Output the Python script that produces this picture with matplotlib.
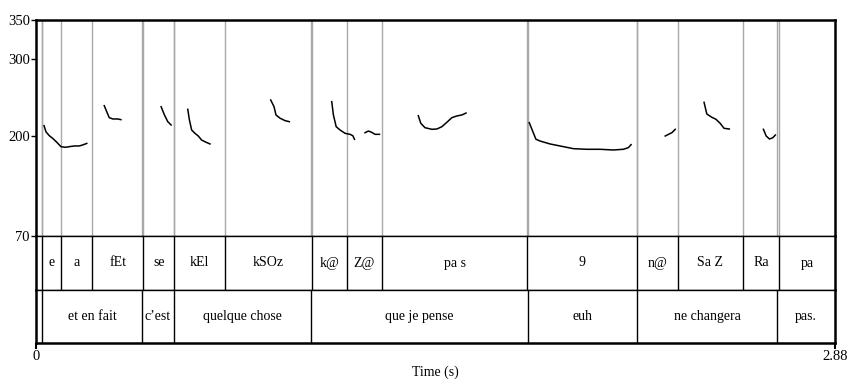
import matplotlib
matplotlib.use("Agg")
import matplotlib.pyplot as plt
import numpy as np

plt.rcParams['font.family'] = ['Liberation Serif', 'DejaVu Serif']
plt.rcParams['font.size'] = 10

# tier 1 (phones)
phone_bounds = [0.0, 0.0227, 0.089, 0.203, 0.387, 0.4985, 0.681, 0.994, 1.120,
                1.248, 1.769, 2.165, 2.313, 2.548, 2.678, 2.88]
phone_labels = ['', 'e', 'a', 'fEt', 'se', 'kEl', 'kSOz', 'k@', 'Z@', 'pa s',
                '9', 'n@', 'Sa Z', 'Ra', 'pa']

# tier 2 (words)
word_bounds = [0.0, 0.0227, 0.383, 0.496, 0.990, 1.772, 2.167, 2.670, 2.88]
word_labels = ['', 'et en fait', 'c\u2019est', 'quelque chose', 'que je pense',
               'euh', 'ne changera', 'pas.']

# pitch contour pieces (time s, F0 Hz)
pitch_t = [
    [0.029, 0.036, 0.048, 0.060, 0.075, 0.090, 0.106, 0.120, 0.138, 0.156, 0.168, 0.183],
    [0.246, 0.255, 0.264, 0.277, 0.295, 0.306],
    [0.451, 0.463, 0.475, 0.487],
    [0.547, 0.553, 0.561, 0.573, 0.585, 0.597, 0.609, 0.627],
    [0.846, 0.858, 0.865, 0.880, 0.898, 0.913],
    [1.066, 1.072, 1.082, 1.096, 1.114, 1.132, 1.142, 1.148],
    [1.186, 1.198, 1.210, 1.222, 1.238],
    [1.378, 1.387, 1.402, 1.427, 1.445, 1.463, 1.481, 1.499, 1.517, 1.535, 1.550],
    [1.778, 1.791, 1.802, 1.817, 1.853, 1.889, 1.937, 1.985, 2.033, 2.081, 2.117, 2.135, 2.145],
    [2.268, 2.280, 2.292, 2.304],
    [2.408, 2.418, 2.436, 2.451, 2.466, 2.480, 2.499],
    [2.622, 2.632, 2.644, 2.656, 2.665],
]
pitch_f = [
    [213, 205, 200, 196.6, 191.5, 185.8, 185, 185.8, 186.7, 186.7, 188, 190],
    [238.9, 231.1, 223.4, 221.7, 221.7, 220.8],
    [237.6, 226.9, 218.2, 213.9],
    [234.2, 220.4, 207.4, 203.1, 199.6, 194.4, 192.2, 189.3],
    [246.3, 237.6, 226.9, 222.6, 219.5, 218.2],
    [244.1, 226.9, 211.7, 207.4, 203.1, 201.8, 200, 195.3],
    [203.9, 206.1, 204.4, 201.8, 201.8],
    [225.9, 216.1, 210.4, 208.3, 208.7, 211.7, 217.4, 223.4, 225.6, 226.9, 229.4],
    [216.9, 205.2, 195.4, 193.1, 189.3, 186.7, 183.2, 182.4, 182.4, 181.5, 182.4, 184.5, 188.4],
    [199.6, 201.8, 203.9, 208.3],
    [243.3, 228.1, 223.9, 221.3, 216.1, 209.6, 208.7],
    [208.3, 199.6, 195.7, 197.4, 200.9],
]

f0_ticks = [70, 200, 300, 350]
t_max = 2.88

W, H = 847, 379
fig = plt.figure(figsize=(W / 100, H / 100), dpi=100)
L, R = 36 / W, 835 / W
def fy(p):
    return 1 - p / H

ax_p = fig.add_axes([L, fy(236), R - L, fy(20) - fy(236)])
ax_1 = fig.add_axes([L, fy(290), R - L, fy(236) - fy(290)])
ax_2 = fig.add_axes([L, fy(343), R - L, fy(290) - fy(343)])

# pitch panel
for b in phone_bounds[1:-1] + word_bounds[1:-1]:
    ax_p.axvline(b, color='#a8a8a8', lw=1)
for tt, ff in zip(pitch_t, pitch_f):
    ax_p.plot(tt, ff, color='black', lw=1.1)
ax_p.set_xlim(0, t_max)
ax_p.set_ylim(70, 350)
ax_p.set_yticks(f0_ticks)
ax_p.set_xticks([])
ax_p.tick_params(axis='y', direction='out', length=3.5, width=1, pad=1, labelsize=10.5)

def draw_tier(ax, bounds, labels):
    for b in bounds[1:-1]:
        ax.axvline(b, color='black', lw=1)
    for a, b, lab in zip(bounds[:-1], bounds[1:], labels):
        if lab:
            ax.text((a + b) / 2, 0.5, lab, ha='center', va='center', fontsize=10)
    ax.set_xlim(0, t_max)
    ax.set_ylim(0, 1)
    ax.set_yticks([])

draw_tier(ax_1, phone_bounds, phone_labels)
draw_tier(ax_2, word_bounds, word_labels)
ax_1.set_xticks([])
ax_2.set_xticks([0, t_max])
ax_2.set_xticklabels(['0', '2.88'])
ax_2.tick_params(axis='x', direction='out', length=4, width=1.5, pad=1, labelsize=10.5)
ax_2.set_xlabel('Time (s)', fontsize=10, labelpad=2)

for ax in (ax_p, ax_1, ax_2):
    for s in ax.spines.values():
        s.set_linewidth(1)
    ax.spines['left'].set_linewidth(1.8)
    ax.spines['right'].set_linewidth(1.8)
ax_p.spines['top'].set_linewidth(1.8)
ax_2.spines['bottom'].set_linewidth(1.8)

fig.savefig('out.png', dpi=100)
